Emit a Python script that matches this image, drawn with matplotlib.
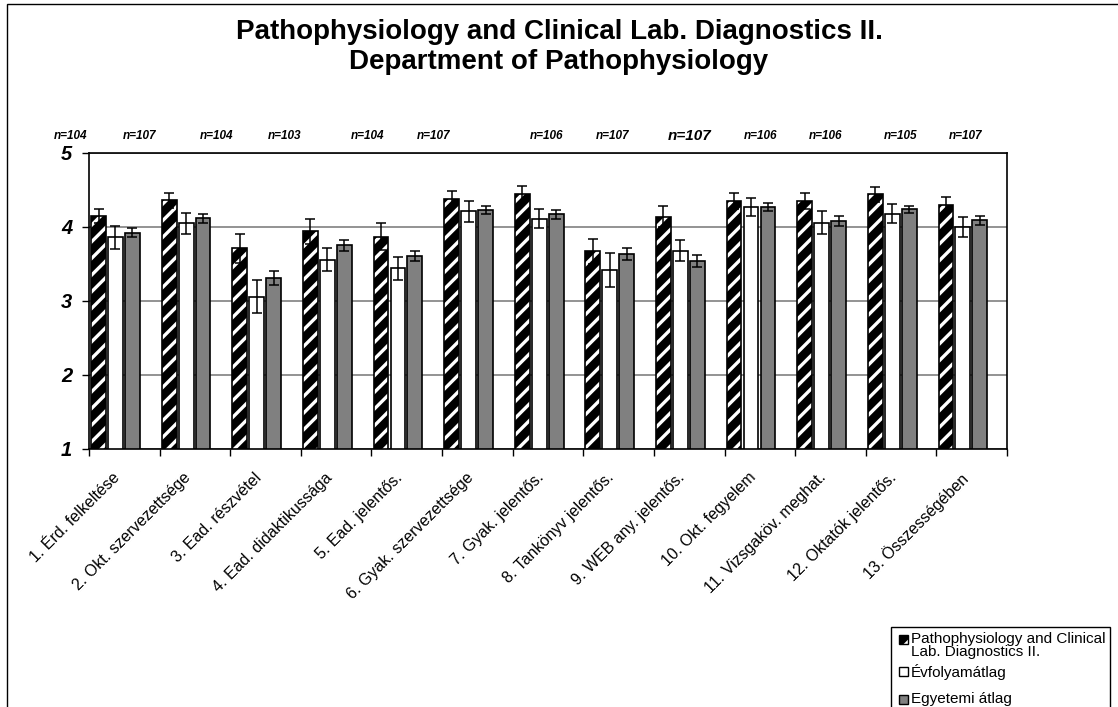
import matplotlib
matplotlib.use("Agg")
import matplotlib.pyplot as plt
from matplotlib.patches import Rectangle
import numpy as np

plt.rcParams["font.family"] = ["Liberation Sans", "DejaVu Sans"]
plt.rcParams["hatch.linewidth"] = 2.4

CATEGORIES = [
    "1. Érd. felkeltése", "2. Okt. szervezettsége", "3. Ead. részvétel",
    "4. Ead. didaktikussága", "5. Ead. jelentős.", "6. Gyak. szervezettsége",
    "7. Gyak. jelentős.", "8. Tankönyv jelentős.", "9. WEB any. jelentős.",
    "10. Okt. fegyelem", "11. Vizsgaköv. meghat.", "12. Oktatók jelentős.",
    "13. Összességében",
]
SERIES = ["Pathophysiology and Clinical\nLab. Diagnostics II.", "Évfolyamátlag", "Egyetemi átlag"]

COURSE = [4.15, 4.36, 3.71, 3.94, 3.87, 4.38, 4.44, 3.67, 4.14, 4.35, 4.35, 4.44, 4.30]
COURSE_ERR = [0.10, 0.10, 0.19, 0.17, 0.18, 0.10, 0.12, 0.17, 0.14, 0.11, 0.11, 0.10, 0.10]
YEAR_AVG = [3.86, 4.05, 3.06, 3.56, 3.44, 4.21, 4.11, 3.42, 3.68, 4.27, 4.06, 4.18, 4.00]
YEAR_ERR = [0.16, 0.14, 0.22, 0.15, 0.16, 0.14, 0.13, 0.23, 0.14, 0.12, 0.16, 0.13, 0.14]
UNI_AVG = [3.92, 4.12, 3.31, 3.75, 3.61, 4.23, 4.17, 3.64, 3.54, 4.27, 4.08, 4.24, 4.09]
UNI_ERR = [0.06, 0.06, 0.09, 0.07, 0.07, 0.06, 0.06, 0.08, 0.08, 0.05, 0.07, 0.05, 0.06]

N_LABELS = ["n=104", "n=107", "n=104", "n=103", "n=104", "n=107", "n=106",
            "n=107", "n=107", "n=106", "n=106", "n=105", "n=107"]
# x position of each n label, in category units (hand placed in the original)
N_X = [-0.255, 0.722, 1.813, 2.776, 3.938, 4.873, 6.473,
       7.408, 8.499, 9.504, 10.425, 11.487, 12.408]
N_BIG = 8  # index of the one n label written larger

W, H = 1118, 707
fig = plt.figure(figsize=(W / 100, H / 100), dpi=100)

# outer chart frame
fig.add_artist(Rectangle((7 / W, -0.05), 1.2, 1 - 4 / H + 0.05, transform=fig.transFigure,
                         fill=False, edgecolor="black", linewidth=1.0))

fig.text(0.5, 1 - 32 / H, "Pathophysiology and Clinical Lab. Diagnostics II.",
         ha="center", va="center", fontsize=20, fontweight="bold")
fig.text(0.5, 1 - 62 / H, "Department of Pathophysiology",
         ha="center", va="center", fontsize=20, fontweight="bold")

ax = fig.add_axes([89 / W, 1 - 449 / H, (1007 - 89) / W, (449 - 153) / H])

x = np.arange(len(CATEGORIES))
bw = 0.21
ekw = dict(fmt="none", ecolor="black", elinewidth=1.1, capsize=3.3, capthick=1.1, zorder=5)

# hatched series: black with white stripes, then a black outline on top
ax.bar(x + 0.135, np.array(COURSE) - 1, bw, bottom=1, color="black", edgecolor="white",
       hatch="//", linewidth=0, zorder=3)
ax.bar(x + 0.135, np.array(COURSE) - 1, bw, bottom=1, fill=False, edgecolor="black",
       linewidth=1.2, zorder=4)
ax.errorbar(x + 0.135, COURSE, yerr=COURSE_ERR, **ekw)

ax.bar(x + 0.375, np.array(YEAR_AVG) - 1, bw, bottom=1, color="white", edgecolor="black",
       linewidth=1.2, zorder=3)
ax.errorbar(x + 0.375, YEAR_AVG, yerr=YEAR_ERR, **ekw)

ax.bar(x + 0.615, np.array(UNI_AVG) - 1, bw, bottom=1, color="#808080", edgecolor="black",
       linewidth=1.2, zorder=3)
ax.errorbar(x + 0.615, UNI_AVG, yerr=UNI_ERR, **ekw)

ax.set_xlim(0, len(CATEGORIES))
ax.set_ylim(1, 5)
ax.set_yticks([1, 2, 3, 4, 5])
ax.set_yticklabels(["1", "2", "3", "4", "5"], fontsize=14.5, fontweight="bold", style="italic")
ax.yaxis.grid(True, color="#808080", linewidth=1.2, zorder=0)
ax.set_axisbelow(True)

ax.set_xticks(np.arange(len(CATEGORIES) + 1))
ax.set_xticklabels([])
ax.set_xticks(x + 0.33, minor=True)
ax.set_xticklabels(CATEGORIES, minor=True, rotation=45, ha="right",
                   rotation_mode="anchor", fontsize=11.5)
ax.tick_params(axis="x", which="minor", length=0, pad=15)
ax.tick_params(axis="x", which="major", direction="out", length=5, width=1.0)
ax.tick_params(axis="y", direction="out", length=5, width=1.0, pad=7)
for sp in ax.spines.values():
    sp.set_linewidth(1.2)
    sp.set_color("black")

for i, (lbl, xp) in enumerate(zip(N_LABELS, N_X)):
    ax.text(xp, 1.057, lbl, transform=ax.get_xaxis_transform(), ha="center", va="center",
            fontsize=11 if i == N_BIG else 8.5, fontweight="bold", style="italic")

# legend box (runs off the bottom edge as in the original)
fig.add_artist(Rectangle((891 / W, -0.05), (1110 - 891) / W, 1 - 627 / H + 0.05,
                         transform=fig.transFigure, facecolor="white", edgecolor="black",
                         linewidth=1.0))
leg_y = [639, 671, 699]
styles = [dict(facecolor="black", edgecolor="white", hatch="//"),
          dict(facecolor="white", edgecolor="black"),
          dict(facecolor="#808080", edgecolor="black")]
for lab, yy, st in zip(SERIES, leg_y, styles):
    fig.add_artist(Rectangle((899 / W, 1 - (yy + 4.5) / H), 9 / W, 9 / H,
                             transform=fig.transFigure, linewidth=0 if "hatch" in st else 1.0, **st))
    if "hatch" in st:
        fig.add_artist(Rectangle((899 / W, 1 - (yy + 4.5) / H), 9 / W, 9 / H,
                                 transform=fig.transFigure, fill=False, edgecolor="black",
                                 linewidth=1.0))
    fig.text(911 / W, 1 - (yy - 7.5) / H, lab, ha="left", va="top", fontsize=11,
             linespacing=0.92)

fig.savefig("out.png", dpi=100)
